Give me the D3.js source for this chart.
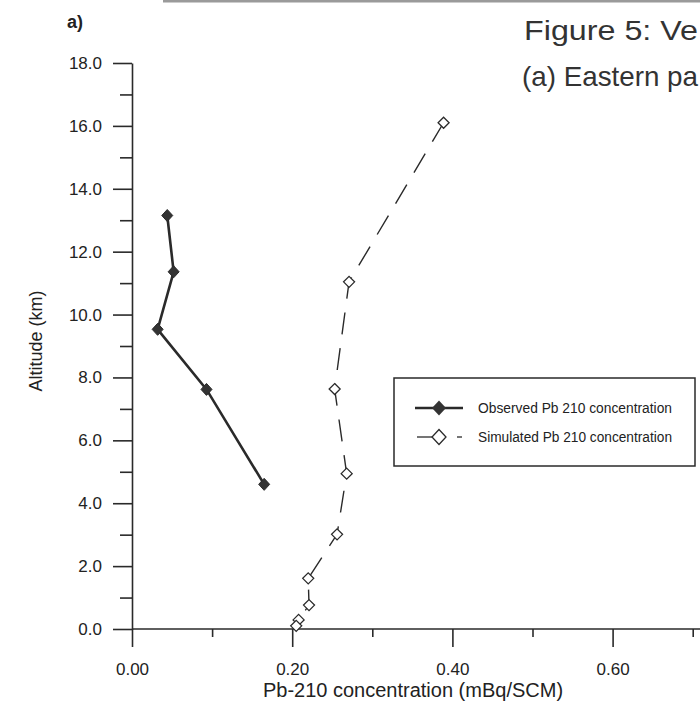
<!DOCTYPE html>
<html>
<head>
<meta charset="utf-8">
<script src="https://cdn.jsdelivr.net/npm/d3@7"></script>
<style>
  body { margin: 0; background: #fff; }
  svg { display: block; font-family: 'Liberation Sans', Arial, sans-serif; }
  .axis path, .axis line { stroke: #2a2a2a; stroke-width: 1.6px; }
  .axis text { fill: #222; font-size: 17px; font-family: 'Liberation Sans', Arial, sans-serif; }
</style>
</head>
<body>
<svg id="chart" width="700" height="707"></svg>
<script>
(function () {

// observed Pb-210 profile (filled diamonds)
const obsConc = [0.044, 0.052, 0.032, 0.093, 0.165];
const obsAlt = [13.15, 11.36, 9.53, 7.62, 4.60];

// simulated Pb-210 profile (open diamonds)
const simConc = [0.389, 0.271, 0.253, 0.268, 0.256, 0.220, 0.221, 0.208, 0.205];
const simAlt = [16.10, 11.04, 7.63, 4.94, 3.01, 1.61, 0.76, 0.29, 0.10];

const xMajorTicks = [0, 0.2, 0.4, 0.6];
const xMinorTicks = [0.1, 0.3, 0.5, 0.7];
const yMajorTicks = [0, 2, 4, 6, 8, 10, 12, 14, 16, 18];
const yMinorTicks = [1, 3, 5, 7, 9, 11, 13, 15, 17];

const seriesNames = ['Observed Pb 210 concentration', 'Simulated Pb 210 concentration'];

const svg = d3.select('#chart');
const ink = '#2a2a2a';

svg.append('rect')
  .attr('width', 700)
  .attr('height', 707)
  .attr('fill', '#fff');

// scanned page edge at the top
svg.append('rect')
  .attr('x', 163)
  .attr('y', 0)
  .attr('width', 537)
  .attr('height', 2.5)
  .attr('fill', '#9a9a9a');

const x = d3.scaleLinear().domain([0, 0.6]).range([132, 612.6]);
const y = d3.scaleLinear().domain([0, 18]).range([629, 63]);

// axes: minor first so majors draw on top
svg.append('g')
  .attr('class', 'axis')
  .attr('transform', 'translate(0,' + y(0) + ')')
  .call(d3.axisBottom(x).tickValues(xMinorTicks).tickSize(8).tickSizeOuter(0).tickFormat(''))
  .select('.domain').remove();

svg.append('g')
  .attr('class', 'axis')
  .attr('transform', 'translate(' + x(0) + ',0)')
  .call(d3.axisLeft(y).tickValues(yMinorTicks).tickSize(12).tickSizeOuter(0).tickFormat(''))
  .select('.domain').remove();

const xAxis = svg.append('g')
  .attr('class', 'axis')
  .attr('transform', 'translate(0,' + y(0) + ')')
  .call(d3.axisBottom(x).tickValues(xMajorTicks).tickSize(18).tickPadding(16).tickSizeOuter(0).tickFormat(d3.format('.2f')));
xAxis.select('.domain').attr('d', 'M' + x(0) + ',0H700');

svg.append('g')
  .attr('class', 'axis')
  .attr('transform', 'translate(' + x(0) + ',0)')
  .call(d3.axisLeft(y).tickValues(yMajorTicks).tickSize(19).tickPadding(11).tickSizeOuter(0).tickFormat(d3.format('.1f')));

// axis titles
svg.append('text')
  .attr('x', 413)
  .attr('y', 697)
  .attr('text-anchor', 'middle')
  .attr('font-size', 20)
  .attr('fill', '#222')
  .text('Pb-210 concentration (mBq/SCM)');

svg.append('text')
  .attr('transform', 'translate(42,341) rotate(-90)')
  .attr('text-anchor', 'middle')
  .attr('font-size', 18)
  .attr('fill', '#222')
  .text('Altitude (km)');

// panel label and figure caption (cut off at the page edge in the scan)
svg.append('text')
  .attr('x', 67)
  .attr('y', 28)
  .attr('font-size', 18)
  .attr('font-weight', 'bold')
  .attr('fill', '#222')
  .text('a)');

svg.append('text')
  .attr('x', 524)
  .attr('y', 40)
  .attr('font-size', 28)
  .attr('fill', '#333')
  .attr('textLength', 174)
  .attr('lengthAdjust', 'spacingAndGlyphs')
  .text('Figure 5: Ve');

svg.append('text')
  .attr('x', 522)
  .attr('y', 86)
  .attr('font-size', 28)
  .attr('fill', '#333')
  .attr('textLength', 176)
  .attr('lengthAdjust', 'spacingAndGlyphs')
  .text('(a) Eastern pa');

function diamond(w, h) {
  return 'M0,' + (-h) + 'L' + w + ',0L0,' + h + 'L' + (-w) + ',0Z';
}

const obs = obsConc.map(function(c, i) { return {c: c, a: obsAlt[i]}; });
const sim = simConc.map(function(c, i) { return {c: c, a: simAlt[i]}; });

const line = d3.line()
  .x(function(d) { return x(d.c); })
  .y(function(d) { return y(d.a); });

svg.append('path')
  .datum(sim)
  .attr('d', line)
  .attr('fill', 'none')
  .attr('stroke', ink)
  .attr('stroke-width', 1.4)
  .attr('stroke-dasharray', '22,14');

svg.append('path')
  .datum(obs)
  .attr('d', line)
  .attr('fill', 'none')
  .attr('stroke', ink)
  .attr('stroke-width', 2.6);

svg.selectAll('.sim-pt')
  .data(sim)
  .enter().append('path')
    .attr('class', 'sim-pt')
    .attr('transform', function(d) { return 'translate(' + x(d.c) + ',' + y(d.a) + ')'; })
    .attr('d', diamond(5.5, 5.5))
    .attr('fill', '#fff')
    .attr('stroke', ink)
    .attr('stroke-width', 1.3);

svg.selectAll('.obs-pt')
  .data(obs)
  .enter().append('path')
    .attr('class', 'obs-pt')
    .attr('transform', function(d) { return 'translate(' + x(d.c) + ',' + y(d.a) + ')'; })
    .attr('d', diamond(5.5, 6))
    .attr('fill', '#333')
    .attr('stroke', ink)
    .attr('stroke-width', 1);

// legend
const legend = svg.append('g')
  .attr('class', 'legend')
  .attr('transform', 'translate(394,378)');

legend.append('rect')
  .attr('width', 301)
  .attr('height', 88)
  .attr('fill', '#fff')
  .attr('stroke', ink)
  .attr('stroke-width', 1.5);

legend.append('line')
  .attr('x1', 21).attr('x2', 69)
  .attr('y1', 30).attr('y2', 30)
  .attr('stroke', ink)
  .attr('stroke-width', 2.6);
legend.append('path')
  .attr('transform', 'translate(45,30)')
  .attr('d', diamond(7, 7.5))
  .attr('fill', '#333');

legend.append('line')
  .attr('x1', 23).attr('x2', 45)
  .attr('y1', 59).attr('y2', 59)
  .attr('stroke', ink)
  .attr('stroke-width', 1.3);
legend.append('line')
  .attr('x1', 63).attr('x2', 68)
  .attr('y1', 59).attr('y2', 59)
  .attr('stroke', ink)
  .attr('stroke-width', 1.3);
legend.append('path')
  .attr('transform', 'translate(45,59)')
  .attr('d', diamond(7, 7.5))
  .attr('fill', '#fff')
  .attr('stroke', ink)
  .attr('stroke-width', 1.3);

legend.selectAll('.legend-label')
  .data(seriesNames)
  .enter().append('text')
    .attr('class', 'legend-label')
    .attr('x', 84)
    .attr('y', function(d, i) { return 35 + i * 29; })
    .attr('font-size', 14)
    .attr('fill', '#222')
    .attr('textLength', 194)
    .attr('lengthAdjust', 'spacingAndGlyphs')
    .text(function(d) { return d; });

})();
</script>
</body>
</html>
